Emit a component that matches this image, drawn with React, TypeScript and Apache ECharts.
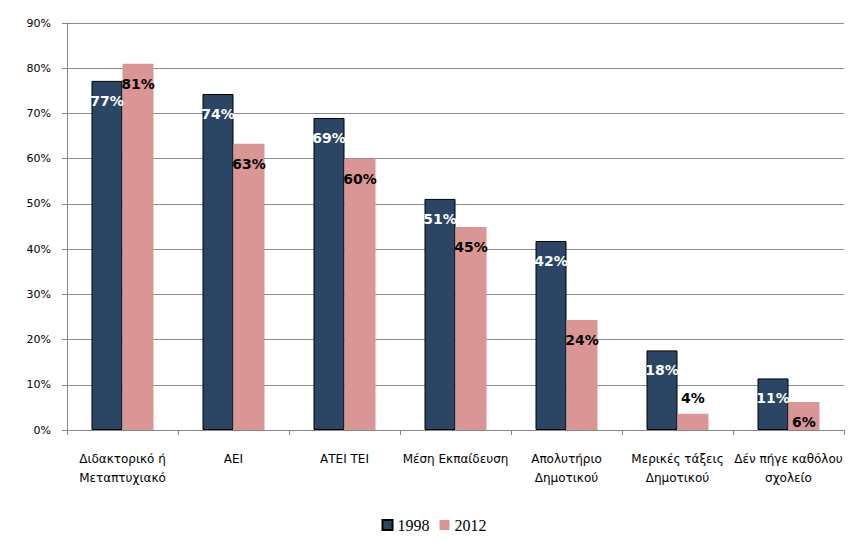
import React, { useEffect, useRef } from "react";
import * as echarts from "echarts";

const categories = [
  "Διδακτορικό ή\nΜεταπτυχιακό",
  "ΑΕΙ",
  "ΑΤΕΙ ΤΕΙ",
  "Μέση Εκπαίδευση",
  "Απολυτήριο\nΔημοτικού",
  "Μερικές τάξεις\nΔημοτικού",
  "Δέν πήγε καθόλου\nσχολείο",
];
const values1998 = [77.2, 74.3, 69.0, 51.1, 41.8, 17.6, 11.4];
const values2012 = [81.0, 63.3, 60.0, 44.9, 24.3, 3.6, 6.2];
const seriesNames = ["1998", "2012"];
const yTicks = [0, 10, 20, 30, 40, 50, 60, 70, 80, 90];

export default function App() {
  const ref = useRef<HTMLDivElement>(null);
  useEffect(() => {
    if (!ref.current) return;
    const chart = echarts.init(ref.current, null, { renderer: "svg" });
    const labelFmt = (p: any) => Math.round(p.value) + "%";
    chart.setOption({
      animation: false,
      backgroundColor: "#fff",
      grid: { left: 67, right: 24, top: 23, bottom: 121 },
      legend: {
        data: seriesNames,
        top: 512,
        left: "center",
        itemWidth: 10,
        itemHeight: 10,
        itemGap: 10,
        icon: "rect",
        textStyle: {
          fontFamily: "Liberation Serif",
          fontSize: 16,
          color: "#000",
        },
      },
      xAxis: {
        type: "category",
        data: categories,
        axisLine: { lineStyle: { color: "#868686" } },
        axisTick: { show: true, length: 5, lineStyle: { color: "#868686" } },
        axisLabel: {
          interval: 0,
          margin: 19,
          fontFamily: "DejaVu Sans",
          fontSize: 12,
          lineHeight: 19,
          color: "#000",
        },
      },
      yAxis: {
        type: "value",
        min: 0,
        max: 90,
        interval: 10,
        axisLine: { show: true, lineStyle: { color: "#868686" } },
        axisTick: { show: true, length: 5, lineStyle: { color: "#868686" } },
        splitLine: { lineStyle: { color: "#8c8c8c" } },
        axisLabel: {
          formatter: (v: number) => (yTicks.includes(v) ? v + "%" : ""),
          fontFamily: "DejaVu Sans",
          fontSize: 11,
          color: "#000",
          margin: 16,
        },
      },
      series: [
        {
          name: seriesNames[0],
          type: "bar",
          data: values1998,
          barWidth: 31,
          barGap: "0%",
          itemStyle: { color: "#2B4664", borderColor: "#000", borderWidth: 1 },
          label: {
            show: true,
            position: "insideTop",
            distance: 13,
            formatter: labelFmt,
            color: "#fff",
            fontWeight: "bold",
            fontFamily: "DejaVu Sans",
            fontSize: 14,
          },
        },
        {
          name: seriesNames[1],
          type: "bar",
          data: values2012.map((v) =>
            v < 5
              ? { value: v, label: { position: "top", distance: 9 } }
              : v
          ),
          barWidth: 31,
          barGap: "0%",
          itemStyle: { color: "#D99694" },
          label: {
            show: true,
            position: "insideTop",
            distance: 13,
            formatter: labelFmt,
            color: "#000",
            fontWeight: "bold",
            fontFamily: "DejaVu Sans",
            fontSize: 14,
          },
        },
      ],
    });
    return () => chart.dispose();
  }, []);
  return (
    <div
      ref={ref}
      style={{ position: "fixed", left: 0, top: 0, width: 868, height: 551 }}
    />
  );
}
